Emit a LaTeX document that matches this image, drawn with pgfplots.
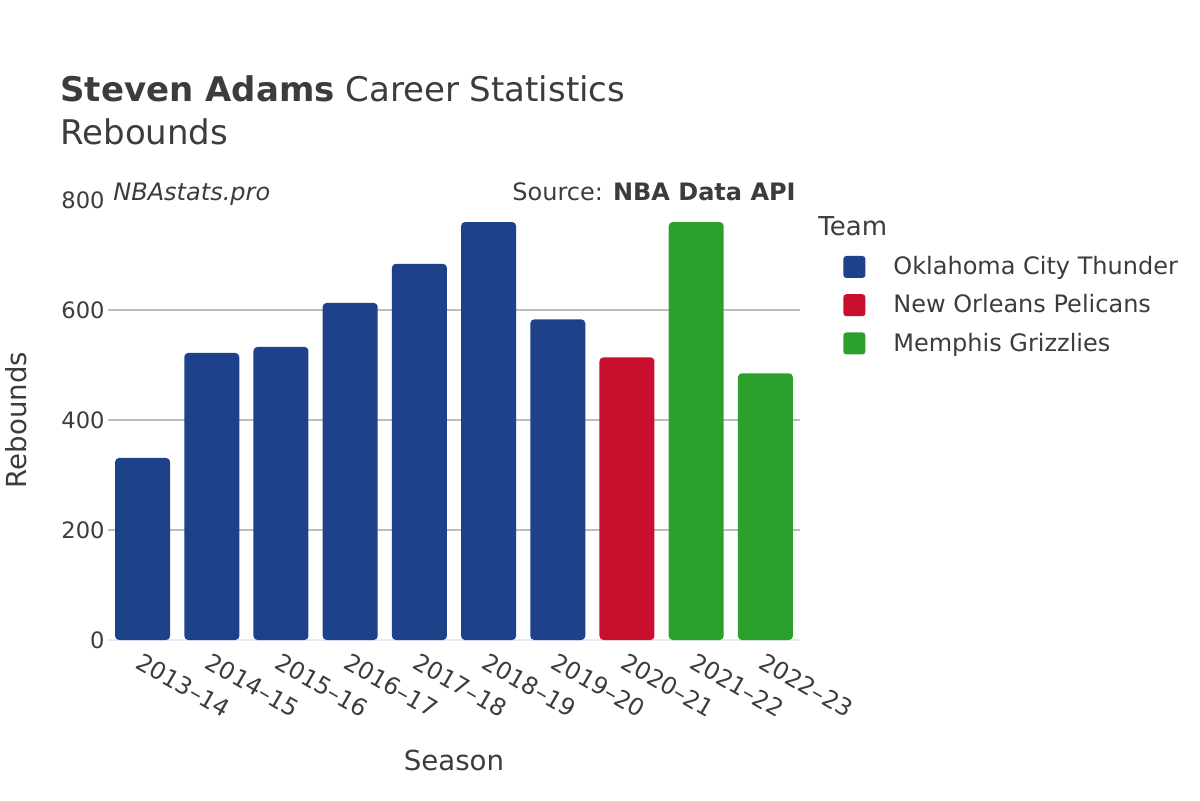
\documentclass[border=0pt]{standalone}
\usepackage{pgfplots}
\pgfplotsset{compat=1.18}
\usepackage{fontspec}
\setmainfont{DejaVu Sans}
\definecolor{okc}{HTML}{1D428A}
\definecolor{nop}{HTML}{C8102E}
\definecolor{mem}{HTML}{2CA02C}
\definecolor{txt}{HTML}{3C3C3C}
\definecolor{gridc}{HTML}{BDBDBD}
\definecolor{zeroc}{HTML}{E6ECF5}
\begin{document}
\begin{tikzpicture}
\path[use as bounding box] (0,0) rectangle (600pt,400pt);
\begin{axis}[
  at={(54pt,80pt)}, anchor=south west,
  scale only axis, width=346pt, height=220pt,
  xmin=-0.5, xmax=9.5, ymin=0, ymax=800,
  axis line style={draw=none},
  ybar, bar width=27.5pt,
  xtick={0,...,9},
  xticklabels={2013–14,2014–15,2015–16,2016–17,2017–18,2018–19,2019–20,2020–21,2021–22,2022–23},
  xticklabel style={rotate=-30, anchor=north west, font=\fontsize{11.9}{13}\selectfont, text=txt, inner sep=1pt},
  ytick={200,400,600},
  extra y ticks={0,800},
  extra y tick style={grid=none},
  yticklabel style={font=\fontsize{11.3}{13}\selectfont, text=txt, inner sep=1.5pt},
  /pgf/number format/assume math mode=true,
  ymajorgrids, major grid style={gridc, line width=0.6pt},
  tick style={draw=none},
  legend style={draw=none, fill=none, at={(1.0,0.891)}, anchor=north west,
    font=\fontsize{12}{14}\selectfont, text=txt, row sep=4.5pt,
    /tikz/every even column/.append style={column sep=0pt}},
  legend cell align=left,
  legend image code/.code={\fill[#1, rounded corners=1.5pt] (18.5pt,-5.5pt) rectangle (29.5pt,5.5pt);\path[draw=none,fill=none] (0pt,0) -- (41.5pt,0);},
]
\draw[zeroc, line width=1pt] (rel axis cs:0,0) -- (rel axis cs:1,0);
\addplot[fill=okc, draw=none, bar shift=0pt, rounded corners=2pt] coordinates {(0,331) (1,522) (2,533) (3,613) (4,684) (5,760) (6,583)};
\addlegendentry{Oklahoma City Thunder}
\addplot[fill=nop, draw=none, bar shift=0pt, rounded corners=2pt] coordinates {(7,514)};
\addlegendentry{New Orleans Pelicans}
\addplot[fill=mem, draw=none, bar shift=0pt, rounded corners=2pt] coordinates {(8,760) (9,485)};
\addlegendentry{Memphis Grizzlies}
\end{axis}
\node[anchor=base west, text=txt, inner sep=0] at (30pt,349pt) {\fontsize{17}{20}\selectfont\textbf{Steven Adams} Career Statistics};
\node[anchor=base west, text=txt, inner sep=0] at (30pt,327.5pt) {\fontsize{17}{20}\selectfont Rebounds};
\node[anchor=base west, text=txt, inner sep=0] at (56.5pt,300pt) {\fontsize{12}{14}\selectfont\itshape NBAstats.pro};
\node[anchor=base east, text=txt, inner sep=0] at (398pt,300pt) {\fontsize{12}{14}\selectfont Source: \textbf{NBA Data API}};
\node[anchor=base west, text=txt, inner sep=0] at (409pt,282.5pt) {\fontsize{13}{15}\selectfont Team};
\node[rotate=90, text=txt, inner sep=0] at (8pt,190pt) {\fontsize{13.8}{16}\selectfont Rebounds};
\node[text=txt, inner sep=0] at (227pt,20pt) {\fontsize{13.8}{16}\selectfont Season};
\end{tikzpicture}
\end{document}
